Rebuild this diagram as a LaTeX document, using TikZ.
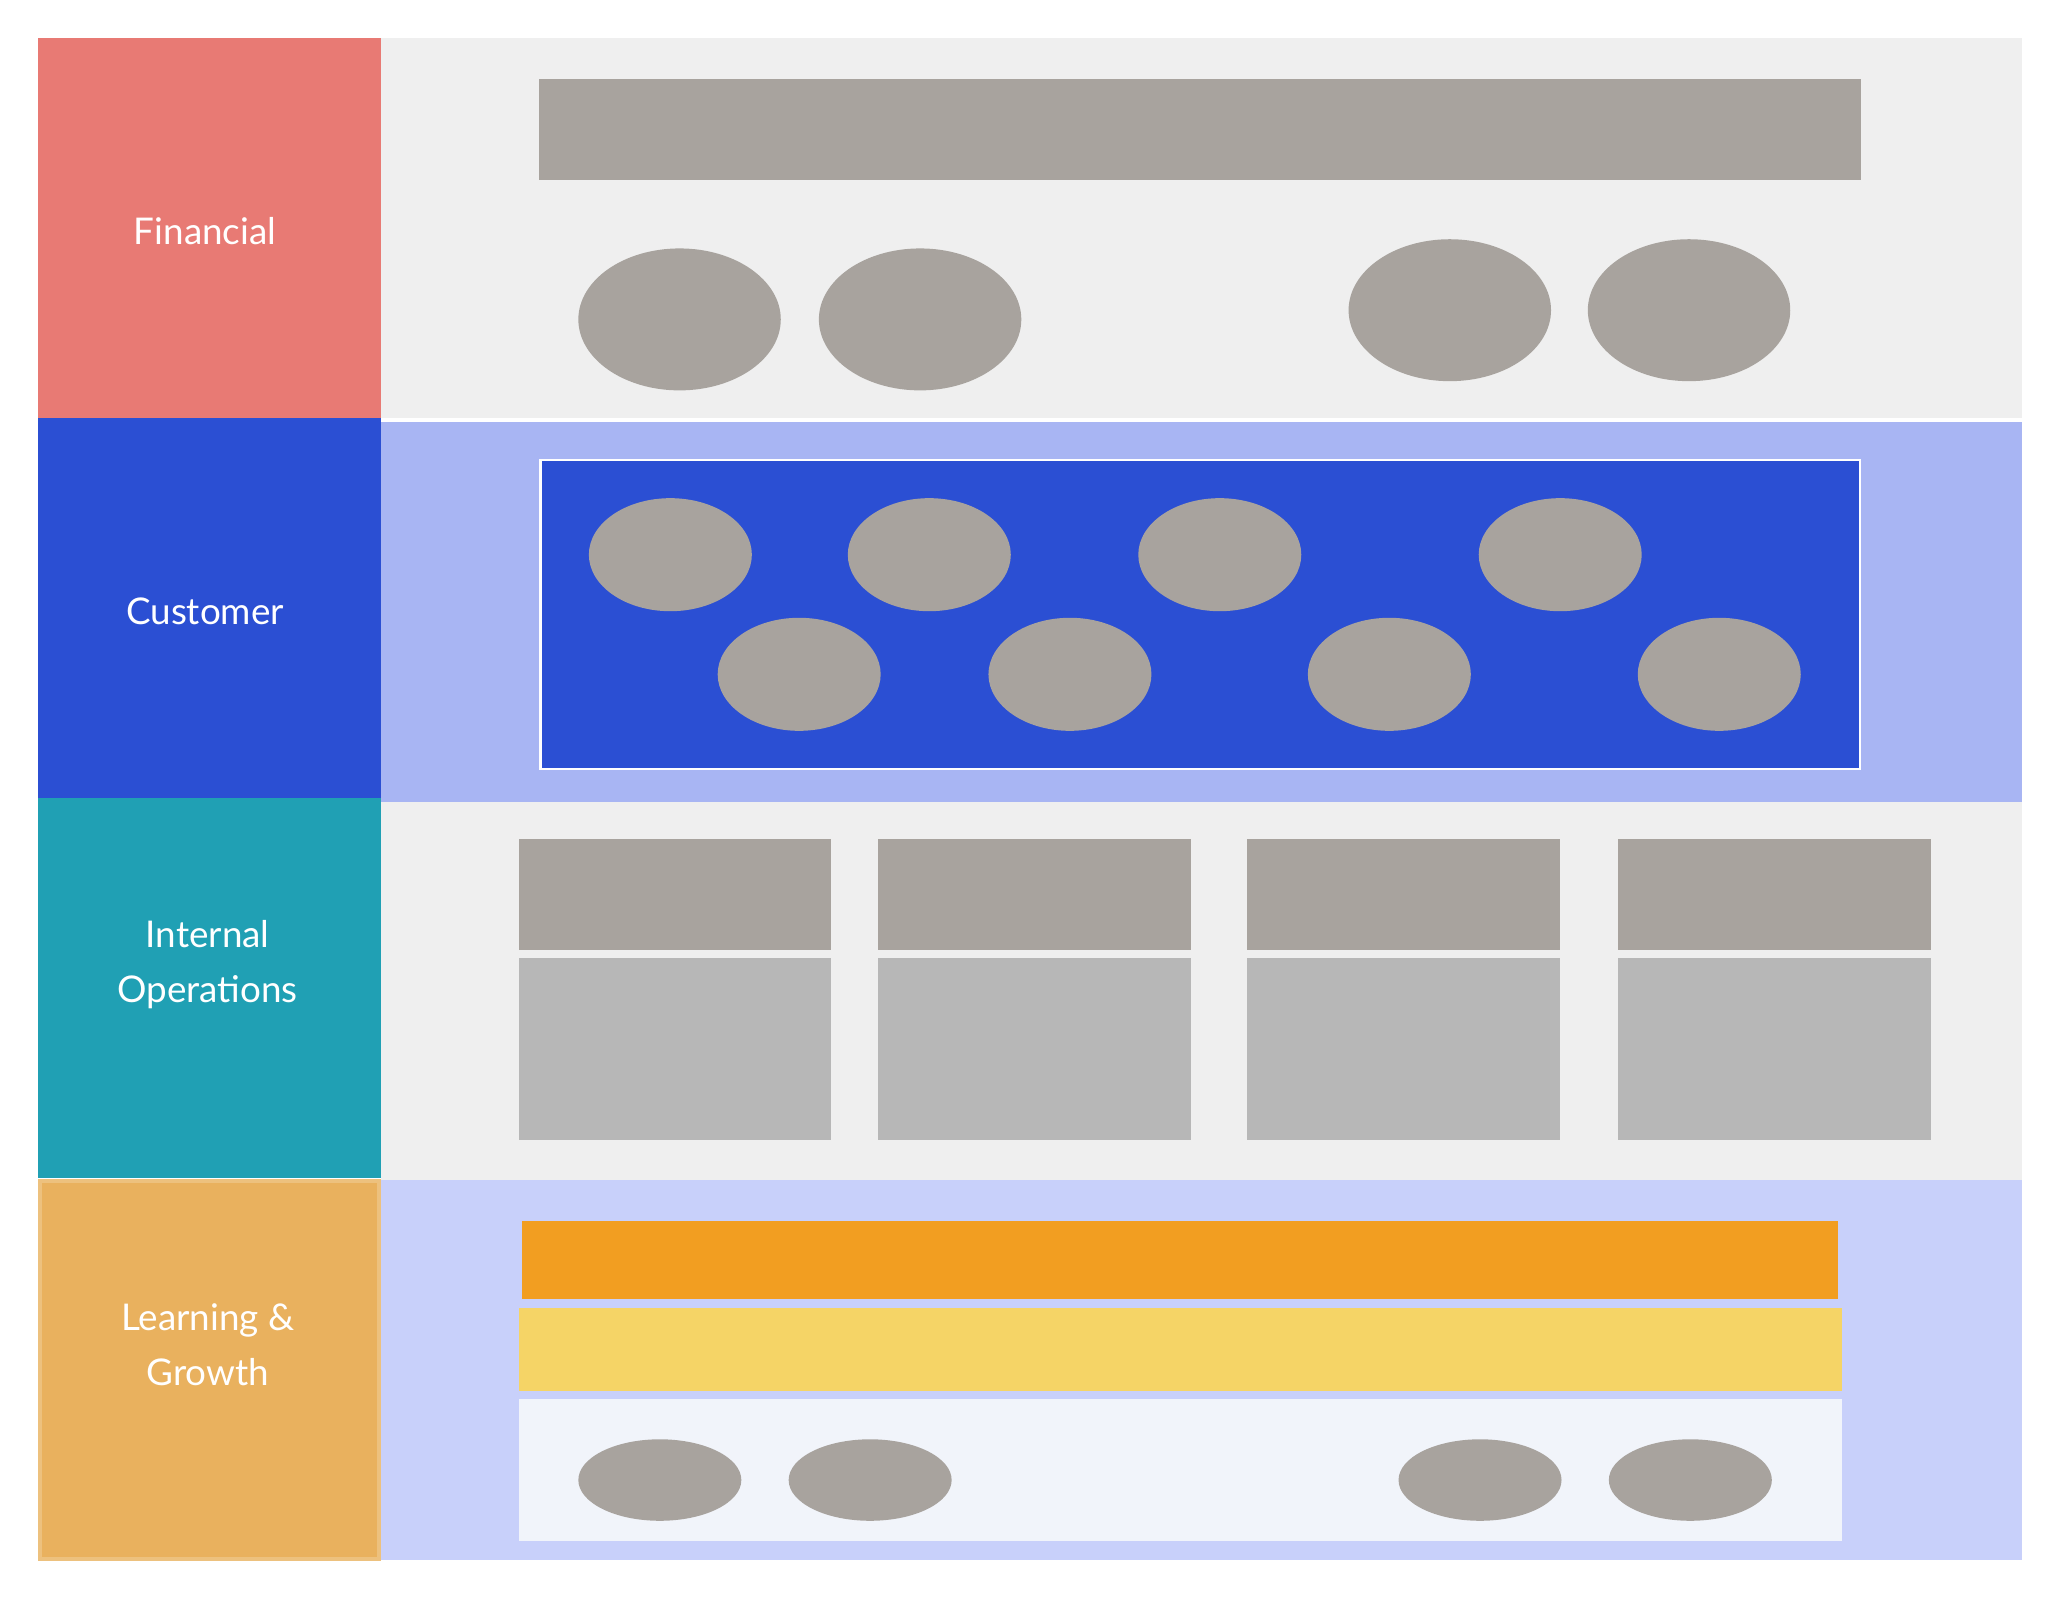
\documentclass[tikz,border=0pt]{standalone}
\usepackage{fontspec}
\setmainfont{Lato}
\definecolor{fin}{HTML}{E87A74}
\definecolor{cus}{HTML}{2B4FD3}
\definecolor{cusb}{HTML}{A8B5F3}
\definecolor{ops}{HTML}{20A0B4}
\definecolor{lrn}{HTML}{E9B15E}
\definecolor{lrnb}{HTML}{C8D0FA}
\definecolor{band}{HTML}{EFEFEF}
\definecolor{gr}{HTML}{A8A39E}
\definecolor{gr2}{HTML}{B7B7B7}
\definecolor{org}{HTML}{F29E21}
\definecolor{yel}{HTML}{F5D466}
\definecolor{wht}{HTML}{F1F4FA}
\tikzset{lbl/.style={text=white,font=\fontsize{28}{42}\selectfont,align=center},
 el/.style={fill=gr}}
\begin{document}
\begin{tikzpicture}[x=1pt,y=-1pt]
\useasboundingbox[fill=white] (0,0) rectangle (1568,1218);
% financial
\fill[fin] (29,29) rectangle (290,318);
\fill[band] (290,29) rectangle (1538,318);
\fill[gr] (410,60) rectangle (1416,137);
\foreach \x/\y in {517/243,700/243,1103/236,1285/236}
  \fill[el] (\x,\y) ellipse [x radius=77,y radius=54];
\node[lbl] (f) at (156,176) {Financial};
% customer
\fill[cus] (29,318) rectangle (290,607);
\fill[cusb] (290,321) rectangle (1538,610);
\filldraw[fill=cus,draw=white,line width=2] (411,350) rectangle (1415,585);
\foreach \x/\y in {510/422,707/422,928/422,1187/422,608/513,814/513,1057/513,1308/513}
  \fill[el] (\x,\y) ellipse [x radius=62,y radius=43];
\node[lbl] (c) at (156,465) {Customer};
% ops
\fill[ops] (29,607) rectangle (290,896);
\fill[band] (290,610) rectangle (1538,898);
\foreach \a/\b in {395/632,668/906,949/1187,1231/1469}{
  \fill[gr] (\a,638) rectangle (\b,723);
  \fill[gr2] (\a,729) rectangle (\b,867);}
\node[lbl] (o) at (158,734) {Internal\\Operations};
% learning
\fill[lrnb] (290,898) rectangle (1538,1187);
\filldraw[fill=lrn,draw=lrn!80!white,line width=3] (30.5,898.5) rectangle (288.5,1186);
\fill[org] (397,929) rectangle (1398,988);
\fill[yel] (395,995) rectangle (1401,1058);
\fill[wht] (395,1064) rectangle (1401,1172);
\foreach \x in {502,662,1126,1286}
  \fill[el] (\x,1126) ellipse [x radius=62,y radius=31];
\node[lbl] (l) at (158,1023) {Learning \&\\Growth};
\end{tikzpicture}
\end{document}
